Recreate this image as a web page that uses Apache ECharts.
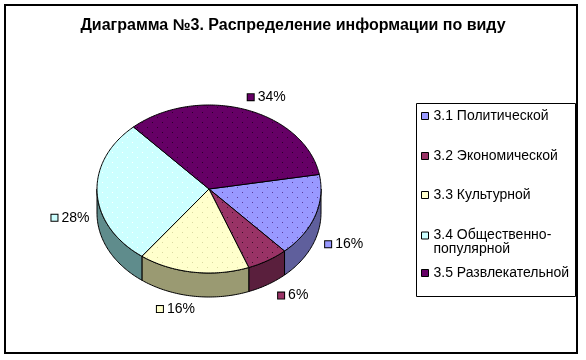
<!DOCTYPE html>
<html><head><meta charset="utf-8">
<script src="https://cdn.jsdelivr.net/npm/echarts@6/dist/echarts.min.js"></script>
<style>html,body{margin:0;padding:0;background:#fff}#c{width:586px;height:360px}</style>
</head><body><div id="c"></div>
<script>
const categories = ['3.1 Политической', '3.2 Экономической', '3.3 Культурной', '3.4 Общественно-\nпопулярной', '3.5 Развлекательной'];
const values = [16, 6, 16, 28, 34];
const percentLabels = ['16%', '6%', '16%', '28%', '34%'];
const topColors = ['#9999FF', '#993366', '#FFFFCC', '#CCFFFF', '#660066'];
const wallColors = ['#5F5F9C', '#5A1F3D', '#9A9A72', '#5F8C8C', '#3D003D'];
const dotColors = ['#5a3a99', '#3d0f26', '#d8d8a0', '#ffffff', '#2a002a'];

const FONT = 'Arial, "Liberation Sans", sans-serif';
const geo = { cx: 209, cy: 189, rx: 112, ry: 84, depth: 24, start: 80 };
const total = values.reduce((a, b) => a + b, 0);

function pt(deg, dy) {
  const r = deg * Math.PI / 180;
  return [geo.cx + geo.rx * Math.sin(r), geo.cy - geo.ry * Math.cos(r) + (dy || 0)];
}
function sliceRange(i) {
  let s = geo.start;
  for (let k = 0; k < i; k++) s += values[k] / total * 360;
  return [s, s + values[i] / total * 360];
}
function makePattern(base, dot) {
  const c = document.createElement('canvas');
  c.width = 10; c.height = 10;
  const g = c.getContext('2d');
  g.fillStyle = base; g.fillRect(0, 0, 10, 10);
  g.fillStyle = dot; g.fillRect(2, 2, 1, 1); g.fillRect(7, 7, 1, 1);
  return { image: c, repeat: 'repeat' };
}
const patterns = topColors.map((c, i) => makePattern(c, dotColors[i]));

function arc(a, b, dy) {
  const pts = [];
  const n = Math.max(2, Math.ceil(Math.abs(b - a)));
  for (let k = 0; k <= n; k++) pts.push(pt(a + (b - a) * k / n, dy));
  return pts;
}

function renderSlice(i) {
  return function (params, api) {
    const [s, e] = sliceRange(i);
    const children = [];
    [[90, 270], [450, 630]].forEach(([fa, fb]) => {
      const a = Math.max(s, fa), b = Math.min(e, fb);
      if (b > a) {
        const pts = arc(a, b, 0).concat(arc(b, a, geo.depth));
        children.push({ type: 'polygon', shape: { points: pts },
          style: { fill: wallColors[i], stroke: '#000', lineWidth: 1 } });
      }
    });
    children.push({ type: 'polygon', shape: { points: [[geo.cx, geo.cy]].concat(arc(s, e, 0)) },
      style: { fill: patterns[i], stroke: '#000', lineWidth: 1 } });
    const mid = (s + e) / 2 * Math.PI / 180;
    const sn = Math.sin(mid), cs = Math.cos(mid);
    const lx = geo.cx + (geo.rx + 26) * sn + 14 * Math.sign(sn) * Math.abs(cs);
    const ly = geo.cy - (geo.ry + 13) * cs + (cs < 0 ? geo.depth : 0);
    children.push({ type: 'text', x: lx, y: ly,
      style: { text: '{s|}{t|' + percentLabels[i] + '}', align: 'center', verticalAlign: 'middle',
        rich: {
          s: { width: 6, height: 6, backgroundColor: topColors[i], borderColor: '#000', borderWidth: 1 },
          t: { fontFamily: FONT, fontSize: 14, fill: '#000', padding: [0, 0, 0, 4] }
        } } });
    return { type: 'group', children };
  };
}

const legendCenters = [116, 156, 195, 235, 273];
const option = {
  animation: false,
  backgroundColor: '#fff',
  title: { text: 'Диаграмма №3. Распределение информации по виду', left: 'center', top: 13,
    textStyle: { fontFamily: FONT, fontSize: 16, fontWeight: 'bold', color: '#000' } },
  graphic: [
    { type: 'rect', shape: { x: 5, y: 5, width: 572, height: 348 }, style: { fill: 'none', stroke: '#000', lineWidth: 2 }, z: -1 },
    { type: 'rect', shape: { x: 416.5, y: 103.5, width: 159, height: 193 }, style: { fill: 'none', stroke: '#000', lineWidth: 1 }, z: -1 }
  ],
  legend: categories.map((name, i) => {
    const multi = name.indexOf('\n') >= 0;
    return {
      data: [name], left: 421, top: legendCenters[i] - 7,
      orient: 'vertical', padding: 0,
      itemWidth: 7, itemHeight: multi ? 28 : 7, itemGap: 0,
      icon: multi ? 'path://M0,0M0,3.5H7V10.5H0ZM7,28' : 'rect',
      selectedMode: false,
      itemStyle: { borderColor: '#000', borderWidth: 1 },
      textStyle: { fontFamily: FONT, fontSize: 14, color: '#000', lineHeight: 14 }
    };
  }),
  series: categories.map((name, i) => ({
    type: 'custom', name: name, coordinateSystem: 'none',
    itemStyle: { color: topColors[i], borderColor: '#000', borderWidth: 1 },
    data: [[values[i]]],
    renderItem: renderSlice(i)
  }))
};
const chart = echarts.init(document.getElementById('c'), null, { renderer: 'canvas' });
chart.setOption(option);
</script>
</body></html>
